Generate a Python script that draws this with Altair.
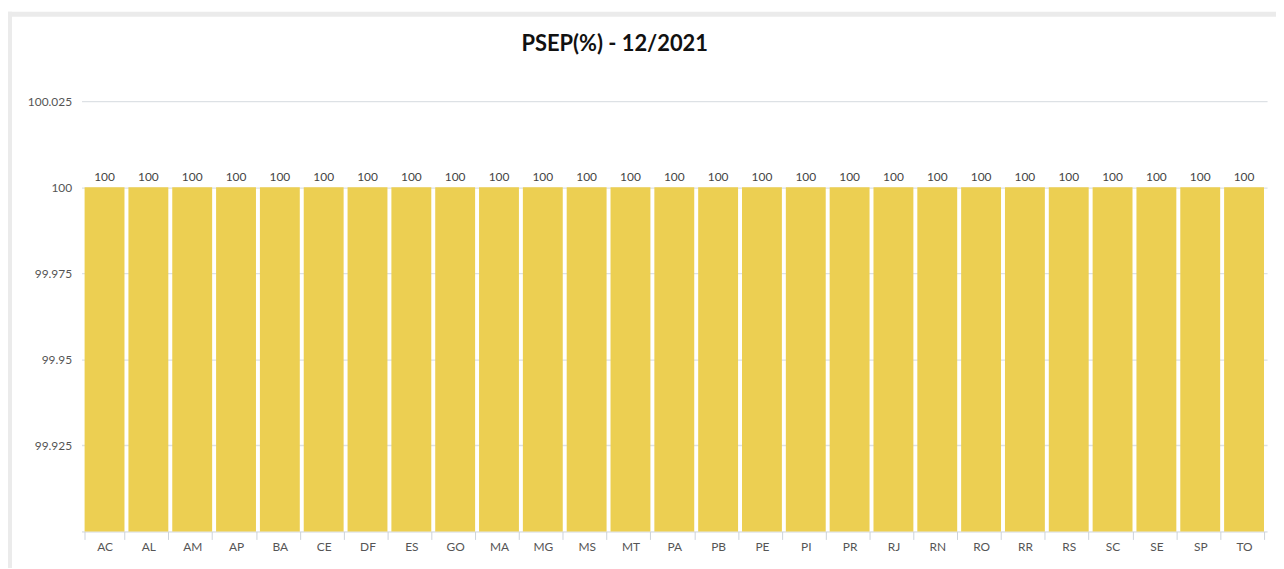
import altair as alt
import pandas as pd

states = ["AC", "AL", "AM", "AP", "BA", "CE", "DF", "ES", "GO", "MA", "MG", "MS", "MT",
          "PA", "PB", "PE", "PI", "PR", "RJ", "RN", "RO", "RR", "RS", "SC", "SE", "SP", "TO"]
values = [100] * len(states)
y_ticks = [99.925, 99.95, 99.975, 100, 100.025]

df = pd.DataFrame({"uf": states, "psep": values})

FONT = "Lato"
W, H = 1193, 433
GRAY = "#ebebeb"

frame_src = pd.DataFrame({"k": [0]})
frame_top = alt.Chart(frame_src).mark_rule(color=GRAY, strokeWidth=5).encode(
    x=alt.value(-76), x2=alt.value(W + 20), y=alt.value(-87.5)
)
frame_left = alt.Chart(frame_src).mark_rule(color=GRAY, strokeWidth=4).encode(
    x=alt.value(-72), y=alt.value(-90), y2=alt.value(H + 40)
)

xenc = alt.X("uf:N", sort=states, title=None,
             scale=alt.Scale(paddingInner=0.09, paddingOuter=0.07),
             axis=alt.Axis(labelAngle=0, tickBand="extent", tickSize=8,
                           tickColor="#cdd3da", domainColor="#cdd3da",
                           labelColor="#555", labelFontSize=12, labelPadding=2,
                           labelFont=FONT, grid=False))
yenc = alt.Y("psep:Q", title=None,
             scale=alt.Scale(domain=[99.9, 100.025], zero=False, nice=False),
             axis=alt.Axis(values=y_ticks, format=".6~g", ticks=False, domain=False,
                           gridColor="#dde1e5", gridWidth=1.3, labelColor="#555",
                           labelFontSize=12, labelPadding=10, labelFont=FONT))

bars = alt.Chart(df).mark_bar(color="#ECCF52", clip=True).encode(x=xenc, y=yenc)
labels = alt.Chart(df).mark_text(baseline="bottom", dy=-3, fontSize=12, color="#444",
                                 font=FONT).encode(
    x=alt.X("uf:N", sort=states), y="psep:Q", text=alt.Text("psep:Q", format=".6~g"))

chart = alt.layer(bars, labels, frame_top, frame_left).properties(
    width=W, height=H,
    title=alt.Title("PSEP(%) - 12/2021", fontSize=22, font=FONT, fontWeight="bold",
                    color="#111", anchor="middle", dx=-60, offset=-64,
                    baseline="alphabetic"),
    background="white",
    padding={"left": 74, "top": 92, "right": 9, "bottom": 35},
    autosize=alt.AutoSizeParams(type="none"),
).configure_view(stroke=None)

chart.save("out.html", embed_options={"renderer": "svg", "actions": False})
